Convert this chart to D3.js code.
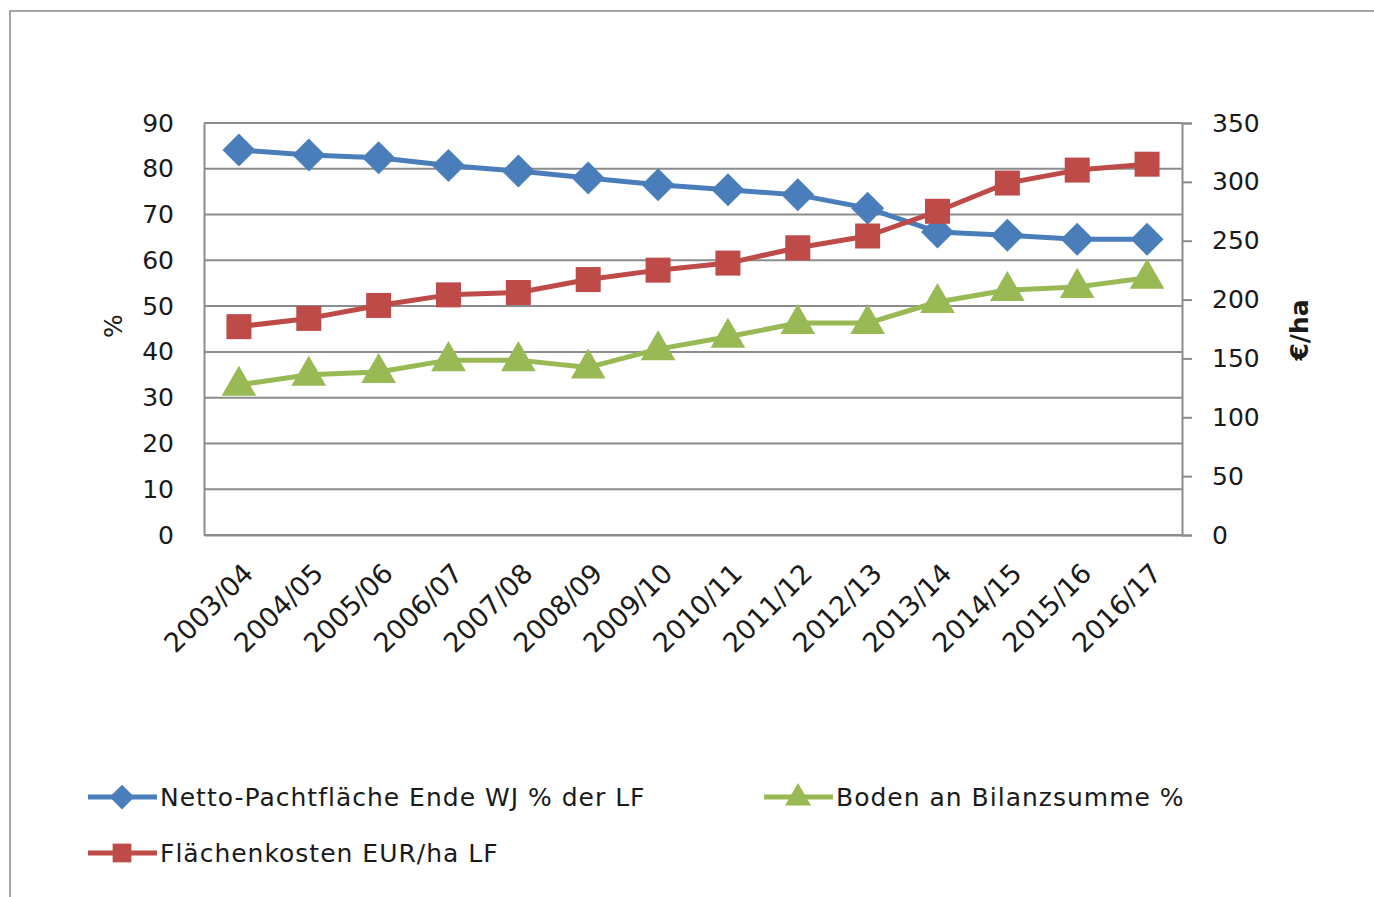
<!DOCTYPE html>
<html>
<head>
<meta charset="utf-8">
<script src="https://cdn.jsdelivr.net/npm/d3@7"></script>
<style>
  body { margin: 0; background: #fff; }
  svg { display: block; font-family: "DejaVu Sans", Verdana, sans-serif; }
</style>
</head>
<body>
<div id="viz"></div>
<script>
// Wirtschaftsjahre
const jahre = ["2003/04", "2004/05", "2005/06", "2006/07", "2007/08", "2008/09", "2009/10",
               "2010/11", "2011/12", "2012/13", "2013/14", "2014/15", "2015/16", "2016/17"];

// Netto-Pachtfläche Ende WJ % der LF (linke Achse)
const pachtflaeche = [84.1, 83.0, 82.4, 80.7, 79.5, 78.0, 76.5, 75.4, 74.3, 71.4, 66.2, 65.5, 64.6, 64.6];
// Flächenkosten EUR/ha LF (rechte Achse)
const flaechenkosten = [177, 184, 195, 204, 206, 217, 225, 231, 244, 254, 275, 299, 310, 315];
// Boden an Bilanzsumme % (linke Achse)
const boden = [32.8, 35.0, 35.6, 38.2, 38.2, 36.6, 40.6, 43.3, 46.3, 46.3, 50.9, 53.5, 54.2, 56.2];

const leftTicks = [0, 10, 20, 30, 40, 50, 60, 70, 80, 90];
const rightTicks = [0, 50, 100, 150, 200, 250, 300, 350];

const width = 1374, height = 897;
const plot = {left: 204, right: 1182, top: 123, bottom: 535};

const svg = d3.select("#viz").append("svg")
    .attr("width", width)
    .attr("height", height);

// Rahmen (nur oben und links sichtbar)
svg.append("path")
    .attr("d", `M10,${height} L10,11 L${width},11`)
    .attr("fill", "none")
    .attr("stroke", "#a6a6a6")
    .attr("stroke-width", 2);

const x = d3.scaleBand().domain(jahre).range([plot.left, plot.right]);
const yL = d3.scaleLinear().domain([0, 90]).range([plot.bottom, plot.top]);
const yR = d3.scaleLinear().domain([0, 350]).range([plot.bottom, plot.top]);
const cx = d => x(d) + x.bandwidth() / 2;

// Gitterlinien
svg.append("g")
    .selectAll("line")
    .data(leftTicks)
    .enter()
    .append("line")
    .attr("x1", plot.left).attr("x2", plot.right)
    .attr("y1", d => yL(d)).attr("y2", d => yL(d))
    .attr("stroke", "#8c8c8c")
    .attr("stroke-width", 2);

// linke Achse
const axL = svg.append("g")
    .attr("transform", `translate(${plot.left},0)`)
    .call(d3.axisLeft(yL).tickValues(leftTicks).tickSize(0).tickPadding(30));
axL.select(".domain").attr("stroke", "#8c8c8c").attr("stroke-width", 2);
axL.selectAll("text").attr("font-size", 25).attr("fill", "#1a1a1a")
    .attr("font-family", "DejaVu Sans");

// rechte Achse
const axR = svg.append("g")
    .attr("transform", `translate(${plot.right},0)`)
    .call(d3.axisRight(yR).tickValues(rightTicks).tickSize(10).tickPadding(20));
axR.select(".domain").attr("stroke", "#8c8c8c").attr("stroke-width", 2);
axR.selectAll(".tick line").attr("stroke", "#8c8c8c").attr("stroke-width", 2);
axR.selectAll("text").attr("font-size", 25).attr("fill", "#1a1a1a")
    .attr("font-family", "DejaVu Sans");

// x-Achse
const axX = svg.append("g")
    .attr("transform", `translate(0,${plot.bottom})`)
    .call(d3.axisBottom(x).tickSize(0).tickPadding(0));
axX.select(".domain").attr("stroke", "#8c8c8c").attr("stroke-width", 2);
axX.selectAll("text")
    .attr("font-size", 27)
    .attr("fill", "#1a1a1a")
    .attr("font-family", "DejaVu Sans")
    .attr("text-anchor", "end")
    .attr("dy", 0)
    .attr("transform", "translate(16,40) rotate(-45)");

// Achsentitel
svg.append("text")
    .attr("transform", "translate(122,326) rotate(-90)")
    .attr("text-anchor", "middle")
    .attr("font-size", 25)
    .attr("fill", "#1a1a1a")
    .text("%");

svg.append("text")
    .attr("transform", "translate(1308,330) rotate(-90)")
    .attr("text-anchor", "middle")
    .attr("font-size", 25)
    .attr("font-weight", "bold")
    .attr("fill", "#1a1a1a")
    .text("€/ha");

const series = [
    {name: "Netto-Pachtfläche Ende WJ % der LF", values: pachtflaeche, y: yL, color: "#4a7ebb", marker: "diamond"},
    {name: "Flächenkosten EUR/ha LF", values: flaechenkosten, y: yR, color: "#be4b48", marker: "square"},
    {name: "Boden an Bilanzsumme %", values: boden, y: yL, color: "#98b954", marker: "triangle"}
];

function markerPath(type, size) {
    if (type === "diamond") return d3.symbol(d3.symbolSquare, size * size * 0.5)();
    if (type === "square") return d3.symbol(d3.symbolSquare, size * size)();
    return d3.symbol(d3.symbolTriangle, size * size * 0.45)();
}
function markerTransform(type, px, py) {
    if (type === "diamond") return `translate(${px},${py}) rotate(45)`;
    if (type === "triangle") return `translate(${px},${py + 1})`;
    return `translate(${px},${py})`;
}
const markerSize = {diamond: 33, square: 25, triangle: 34};

series.forEach(s => {
    const line = d3.line()
        .x((d, i) => cx(jahre[i]))
        .y(d => s.y(d));

    svg.append("path")
        .datum(s.values)
        .attr("d", line)
        .attr("fill", "none")
        .attr("stroke", s.color)
        .attr("stroke-width", 5)
        .attr("stroke-linejoin", "round");

    svg.append("g")
        .selectAll("path")
        .data(s.values)
        .enter()
        .append("path")
        .attr("d", markerPath(s.marker, markerSize[s.marker]))
        .attr("transform", (d, i) => markerTransform(s.marker, cx(jahre[i]), s.y(d)))
        .attr("fill", s.color);
});

// Legende
const legendItems = [
    {s: series[0], x: 88, y: 797},
    {s: series[1], x: 88, y: 853},
    {s: series[2], x: 764, y: 797}
];

const legend = svg.append("g")
    .selectAll("g")
    .data(legendItems)
    .enter()
    .append("g")
    .attr("transform", d => `translate(${d.x},${d.y})`);

legend.append("line")
    .attr("x1", 0).attr("x2", 69)
    .attr("y1", 0).attr("y2", 0)
    .attr("stroke", d => d.s.color)
    .attr("stroke-width", 5);

legend.append("path")
    .attr("d", d => markerPath(d.s.marker, markerSize[d.s.marker] * 0.75))
    .attr("transform", d => markerTransform(d.s.marker, 34, 0))
    .attr("fill", d => d.s.color);

legend.append("text")
    .attr("x", 72)
    .attr("y", 0)
    .attr("dy", "0.36em")
    .attr("font-size", 25)
    .attr("letter-spacing", 1)
    .attr("fill", "#1a1a1a")
    .text(d => d.s.name);
</script>
</body>
</html>
